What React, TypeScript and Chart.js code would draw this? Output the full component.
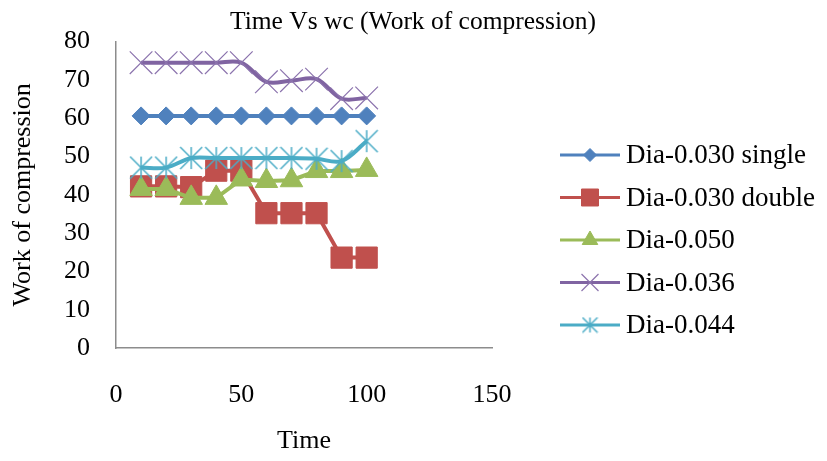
import React, { useEffect, useRef } from 'react';
import { Chart, registerables } from 'chart.js';
import { drawPoint } from 'chart.js/helpers';

Chart.register(...registerables);

// ---- data ----
const times = [10, 20, 30, 40, 50, 60, 70, 80, 90, 100];
const dia030Single = [60.6, 60.6, 60.6, 60.6, 60.6, 60.6, 60.6, 60.6, 60.6, 60.6];
const dia030Double = [42.2, 42.2, 42, 46.3, 46.3, 35.2, 35.2, 35.2, 23.6, 23.6];
const dia050 = [41.5, 41.5, 39.2, 39.2, 44, 43.6, 43.8, 46.2, 46.2, 46.5];
const dia036 = [74.5, 74.5, 74.5, 74.5, 74.5, 69.5, 69.8, 70.2, 65.1, 65.3];
const dia044 = [47.1, 47.1, 49.6, 49.6, 49.6, 49.6, 49.6, 49.4, 48.8, 54];
const seriesNames = ['Dia-0.030 single', 'Dia-0.030 double', 'Dia-0.050', 'Dia-0.036', 'Dia-0.044'];
const chartTitle = 'Time Vs wc (Work of compression)';
const xMin = 0, xMax = 150, xStep = 50;
const yMin = 0, yMax = 80, yStep = 10;

const FONT = '"Liberation Serif", "Times New Roman", serif';

function makeStar(size: number, color: string, lw: number) {
  const c = document.createElement('canvas');
  c.width = size;
  c.height = size;
  const g = c.getContext('2d')!;
  g.strokeStyle = color;
  g.lineWidth = lw;
  const m = size / 2;
  const a = size / 2 - 1;
  g.beginPath();
  g.moveTo(m - a, m - a); g.lineTo(m + a, m + a);
  g.moveTo(m + a, m - a); g.lineTo(m - a, m + a);
  g.moveTo(m, m - a); g.lineTo(m, m + a);
  g.stroke();
  return c;
}

export default function App() {
  const ref = useRef<HTMLCanvasElement | null>(null);
  useEffect(() => {
    const canvas = ref.current!;
    const starBig = makeStar(24, '#4BACC6', 1.5);
    const starSmall = makeStar(17, '#4BACC6', 1.5);
    const toPts = (arr: number[]) => times.map((t, i) => ({ x: t, y: arr[i] }));

    const legendMarkers: any[] = [
      { style: 'rectRot', radius: 6.5, fill: '#4F81BD', stroke: '#4F81BD', bw: 1 },
      { style: 'rect', radius: 12, fill: '#C0504D', stroke: '#C0504D', bw: 1 },
      { style: 'triangle', radius: 9, fill: '#9BBB59', stroke: '#9BBB59', bw: 1 },
      { style: 'crossRot', radius: 12, fill: '#8064A2', stroke: '#8C74AE', bw: 1.2 },
      { style: starSmall, radius: 8, fill: '#4BACC6', stroke: '#4BACC6', bw: 1 },
    ];

    const customLegend = {
      id: 'customLegend',
      afterDraw(chart: any) {
        const ctx = chart.ctx;
        ctx.save();
        // chart title, centred on the whole picture
        ctx.fillStyle = '#000';
        ctx.font = '25.5px ' + FONT;
        ctx.textBaseline = 'middle';
        ctx.textAlign = 'center';
        ctx.fillText(chartTitle, 413, 22);

        chart.data.datasets.forEach((ds: any, i: number) => {
          const y = 155 + i * 42.5;
          ctx.strokeStyle = ds.borderColor;
          ctx.lineWidth = 3;
          ctx.beginPath();
          ctx.moveTo(560, y);
          ctx.lineTo(620, y);
          ctx.stroke();
          const mk = legendMarkers[i];
          ctx.fillStyle = mk.fill;
          ctx.strokeStyle = mk.stroke;
          ctx.lineWidth = mk.bw;
          drawPoint(ctx, { pointStyle: mk.style, rotation: 0, radius: mk.radius, borderWidth: mk.bw }, 590, y);
          ctx.fillStyle = '#000';
          ctx.font = '27px ' + FONT;
          ctx.textBaseline = 'middle';
          ctx.textAlign = 'left';
          ctx.fillText(ds.label, 626, y + 1);
        });
        ctx.restore();
      },
    };

    const chart = new Chart(canvas, {
      type: 'line',
      data: {
        datasets: [
          {
            label: seriesNames[0], data: toPts(dia030Single), borderColor: '#4F81BD', backgroundColor: '#4F81BD',
            borderWidth: 4, pointStyle: 'rectRot', pointRadius: 9, pointBorderWidth: 1, tension: 0, order: 4,
          },
          {
            label: seriesNames[1], data: toPts(dia030Double), borderColor: '#C0504D', backgroundColor: '#C0504D',
            borderWidth: 4, pointStyle: 'rect', pointRadius: 15, pointBorderWidth: 1, tension: 0, order: 3,
          },
          {
            label: seriesNames[2], data: toPts(dia050), borderColor: '#9BBB59', backgroundColor: '#9BBB59',
            borderWidth: 4, pointStyle: 'triangle', pointRadius: 13, pointBorderWidth: 1, tension: 0, order: 2,
          },
          {
            label: seriesNames[3], data: toPts(dia036), borderColor: '#8064A2', backgroundColor: '#8064A2',
            pointBorderColor: '#8C74AE', borderWidth: 4, pointStyle: 'crossRot', pointRadius: 16, pointBorderWidth: 1.2,
            tension: 0.35, order: 1,
          },
          {
            label: seriesNames[4], data: toPts(dia044), borderColor: '#4BACC6', backgroundColor: '#4BACC6',
            borderWidth: 4, pointStyle: starBig as any, pointRadius: 12, pointBorderWidth: 1, tension: 0.35, order: 0,
          },
        ],
      },
      options: {
        responsive: false,
        animation: false,
        devicePixelRatio: 1,
        layout: { padding: { left: 0, right: 335, top: 39, bottom: 0 } },
        plugins: {
          legend: { display: false },
          tooltip: { enabled: false },
          title: { display: false },
        },
        scales: {
          x: {
            type: 'linear',
            min: xMin, max: xMax,
            afterFit: (s: any) => { s.height = 113; },
            grid: { display: false, drawTicks: false },
            border: { display: true, color: '#8C8C8C', width: 1.5 },
            ticks: { stepSize: xStep, color: '#000', padding: 32, font: { family: FONT, size: 26 } },
            title: { display: true, text: 'Time', color: '#000', font: { family: FONT, size: 26 }, padding: { top: 0, bottom: 4 } },
          },
          y: {
            type: 'linear',
            min: yMin, max: yMax,
            afterFit: (s: any) => { s.width = 116; },
            grid: { display: false, drawTicks: false },
            border: { display: true, color: '#8C8C8C', width: 1.5 },
            ticks: { stepSize: yStep, color: '#000', padding: 26, font: { family: FONT, size: 26 } },
            title: { display: true, text: 'Work of compression', color: '#000', font: { family: FONT, size: 26 }, padding: { top: 8, bottom: 0 } },
          },
        },
      },
      plugins: [customLegend],
    } as any);
    return () => chart.destroy();
  }, []);

  return (
    <div style={{ position: 'absolute', left: 0, top: 0, width: 827, height: 461, background: '#fff' }}>
      <canvas ref={ref} width={827} height={461} style={{ width: 827, height: 461, display: 'block' }} />
    </div>
  );
}
